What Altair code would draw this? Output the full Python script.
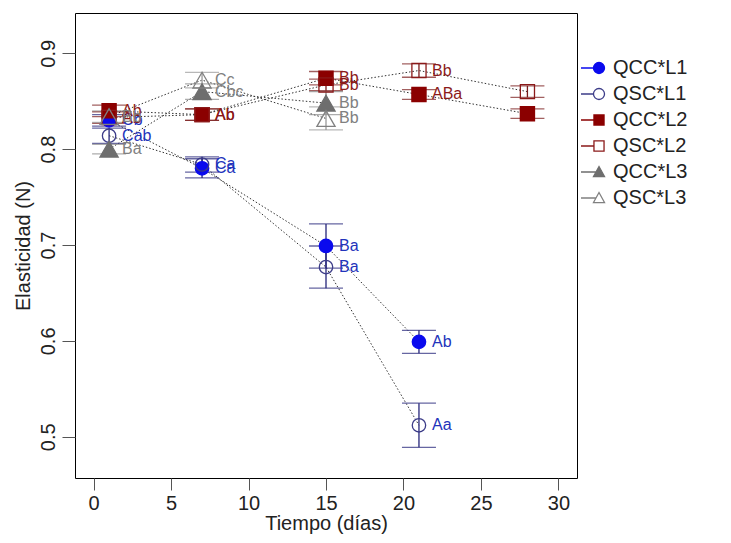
import altair as alt
import pandas as pd

# ---------------- data ----------------
series = ["QCC*L1", "QSC*L1", "QCC*L2", "QSC*L2", "QCC*L3", "QSC*L3"]

days_L1 = [1, 7, 15, 21]
days_L2 = [1, 7, 15, 21, 28]
days_L3 = [1, 7, 15]

qcc_l1 = [0.830, 0.780, 0.699, 0.599]
qcc_l1_err = [0.006, 0.010, 0.023, 0.012]
qcc_l1_lab = ["Cb", "Ca", "Ba", "Ab"]

qsc_l1 = [0.814, 0.784, 0.677, 0.512]
qsc_l1_err = [0.008, 0.008, 0.022, 0.023]
qsc_l1_lab = ["Cab", "Ca", "Ba", "Aa"]

qcc_l2 = [0.840, 0.836, 0.874, 0.857, 0.837]
qcc_l2_err = [0.006, 0.006, 0.007, 0.005, 0.005]
qcc_l2_lab = ["Ab", "Ab", "Bb", "ABa", ""]

qsc_l2 = [0.833, 0.836, 0.867, 0.882, 0.860]
qsc_l2_err = [0.006, 0.006, 0.006, 0.007, 0.006]
qsc_l2_lab = ["Ab", "Ab", "Bb", "Bb", ""]

qcc_l3 = [0.800, 0.860, 0.848]
qcc_l3_err = [0.005, 0.008, 0.012]
qcc_l3_lab = ["Ba", "Cbc", "Bb"]

qsc_l3 = [0.834, 0.872, 0.832]
qsc_l3_err = [0.006, 0.008, 0.012]
qsc_l3_lab = ["Bb", "Cc", "Bb"]

x_ticks = [0, 5, 10, 15, 20, 25, 30]
y_ticks = [0.5, 0.6, 0.7, 0.8, 0.9]

# ---------------- styles ----------------
FONT = "Liberation Sans"
marker_stroke = ["#0a0aee", "#3c3c88", "#8b0000", "#8b1a1a", "#6e6e6e", "#808080"]
marker_fill = ["#0a0aee", "transparent", "#8b0000", "transparent", "#6e6e6e", "transparent"]
marker_shape = ["circle", "circle", "square", "square", "triangle-up", "triangle-up"]
marker_size = [180, 180, 200, 200, 330, 330]
bar_color = ["#25257a", "#25257a", "#7a1c1c", "#7a1c1c", "#8a8a8a", "#9a9a9a"]
label_color = ["#2233bb", "#2233bb", "#8b1a1a", "#8b1a1a", "#808080", "#808080"]

legend_shapes = [
    "M -1 0 L 0.04 0 M 0.04 0 A 0.46 0.46 0 1 0 0.96 0 A 0.46 0.46 0 1 0 0.04 0 Z",
    "M -1 0 L 0.04 0 M 0.04 0 A 0.46 0.46 0 1 0 0.96 0 A 0.46 0.46 0 1 0 0.04 0 Z",
    "M -1 0 L 0.08 0 M 0.08 -0.42 L 0.92 -0.42 L 0.92 0.42 L 0.08 0.42 Z",
    "M -1 0 L 0.08 0 M 0.08 -0.42 L 0.92 -0.42 L 0.92 0.42 L 0.08 0.42 Z",
    "M -1 0 L 0.25 0 M 0.5 -0.46 L 0.96 0.38 L 0.04 0.38 Z",
    "M -1 0 L 0.25 0 M 0.5 -0.46 L 0.96 0.38 L 0.04 0.38 Z",
]

xscale = alt.Scale(domain=[-1.2, 31.2], nice=False, zero=False)
yscale = alt.Scale(domain=[0.457, 0.942], nice=False, zero=False)
xaxis = alt.Axis(values=x_ticks, title="Tiempo (días)", labelPadding=3, titlePadding=0, tickSize=12)
yaxis = alt.Axis(values=y_ticks, format=".1f", title="Elasticidad (N)", labelAngle=270,
                 labelAlign="center", labelBaseline="bottom", labelPadding=4, titlePadding=5)


def X():
    return alt.X("day:Q", scale=xscale, axis=xaxis)


def Y(field):
    return alt.Y(f"{field}:Q", scale=yscale, axis=yaxis)


def series_layers(i, days, vals, errs, labels):
    df = pd.DataFrame({
        "day": days,
        "val": vals,
        "lo": [v - e for v, e in zip(vals, errs)],
        "hi": [v + e for v, e in zip(vals, errs)],
        "lab": labels,
    })
    base = alt.Chart(df)
    line = base.mark_line(strokeDash=[1.5, 2], strokeWidth=1, color="#333333").encode(x=X(), y=Y("val"))
    rule = base.mark_rule(color=bar_color[i], strokeWidth=1.3).encode(x=X(), y=Y("lo"), y2="hi:Q")
    cap_lo = base.mark_tick(orient="horizontal", size=34, thickness=1.3, color=bar_color[i]).encode(x=X(), y=Y("lo"))
    cap_hi = base.mark_tick(orient="horizontal", size=34, thickness=1.3, color=bar_color[i]).encode(x=X(), y=Y("hi"))
    pts = base.mark_point(shape=marker_shape[i], size=marker_size[i], stroke=marker_stroke[i],
                          fill=marker_fill[i], opacity=1, strokeWidth=1.3).encode(x=X(), y=Y("val"))
    txt = base.transform_filter("datum.lab != ''").mark_text(
        align="left", baseline="middle", dx=13, fontSize=16, font=FONT, color=label_color[i]
    ).encode(x=X(), y=Y("val"), text="lab:N")
    return [line, rule, cap_lo, cap_hi, pts, txt]


all_series = [
    (days_L1, qcc_l1, qcc_l1_err, qcc_l1_lab),
    (days_L1, qsc_l1, qsc_l1_err, qsc_l1_lab),
    (days_L2, qcc_l2, qcc_l2_err, qcc_l2_lab),
    (days_L2, qsc_l2, qsc_l2_err, qsc_l2_lab),
    (days_L3, qcc_l3, qcc_l3_err, qcc_l3_lab),
    (days_L3, qsc_l3, qsc_l3_err, qsc_l3_lab),
]

lines = []
bars = []
points = []
texts = []
for i, (d, v, e, l) in enumerate(all_series):
    ln, rl, cl, ch, pt, tx = series_layers(i, d, v, e, l)
    lines.append(ln)
    bars += [rl, cl, ch]
    points.append(pt)
    texts.append(tx)

# legend (driven by scale domains only)
leg = alt.Legend(title=None, orient="none", legendX=505, legendY=42, labelFontSize=20, labelFont=FONT,
                 labelColor="#222222", symbolSize=576, symbolStrokeWidth=1.3, rowPadding=3,
                 labelOffset=7, padding=0)
legend_df = pd.DataFrame({"series": series})
legend_layer = alt.Chart(legend_df).transform_filter("false").mark_point(opacity=1).encode(
    x=X(), y=Y("val"),
    stroke=alt.Stroke("series:N", scale=alt.Scale(domain=series, range=marker_stroke), legend=leg),
    fill=alt.Fill("series:N", scale=alt.Scale(domain=series, range=marker_fill), legend=leg),
    shape=alt.Shape("series:N", scale=alt.Scale(domain=series, range=legend_shapes), legend=leg),
)

chart = alt.layer(*lines, *bars, *points, *texts, legend_layer).properties(
    width=502, height=465,
    autosize=alt.AutoSizeParams(type="none"),
    padding={"left": 67, "top": 5, "right": 146, "bottom": 57},
    background="white",
).configure_view(
    stroke="black", strokeWidth=1
).configure_axis(
    grid=False, domain=False, tickColor="#555555", tickSize=13, tickWidth=1,
    labelFontSize=20, titleFontSize=20, labelFont=FONT, titleFont=FONT,
    labelColor="#222222", titleColor="#222222", titleFontWeight="normal"
)

chart.save("out.html", embed_options={"renderer": "svg", "actions": False})
